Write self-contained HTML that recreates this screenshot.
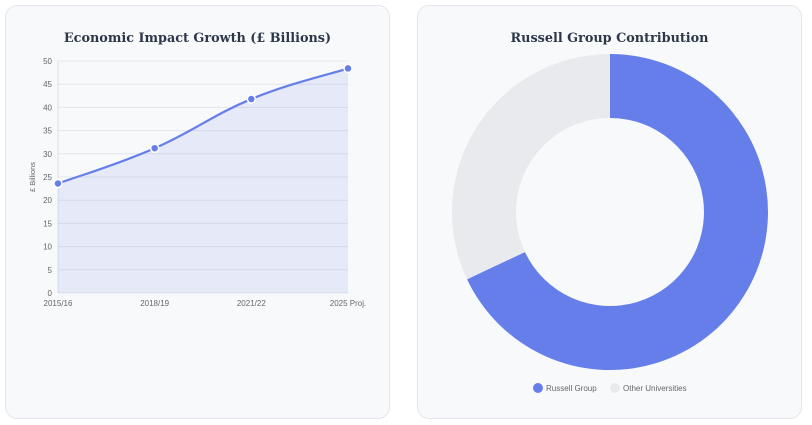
<!DOCTYPE html>
<html><head><meta charset="utf-8"><style>
body{margin:0;width:812px;height:425px;background:#fff;font-family:"Liberation Sans",sans-serif;overflow:hidden}
.card{position:absolute;top:5px;width:385px;height:414px;background:#f8f9fb;border:1px solid #e3e6ea;border-radius:12px;box-sizing:border-box}
.title{position:absolute;top:25px;left:0;right:0;text-align:center;font-family:"DejaVu Serif","Liberation Serif",serif;font-weight:bold;font-size:12.8px;color:#2d3748}
</style></head><body>
<div class="card" style="left:5px">
<div class="title">Economic Impact Growth (£ Billions)</div></div>
<div class="card" style="left:417px">
<div class="title">Russell Group Contribution</div></div>
<svg id="s" width="812" height="425" style="position:absolute;left:0;top:0"></svg>
<script>
const categories=["2015/16","2018/19","2021/22","2025 Proj."];
const values=[23.6,31.2,41.8,48.4];
const yTicks=[0,5,10,15,20,25,30,35,40,45,50];
const donutLabels=["Russell Group","Other Universities"];
const donutValues=[68,32];
const donutColors=["#667eea","#e8eaed"];
const NS="http://www.w3.org/2000/svg",s=document.getElementById('s');
function el(t,a,p){const e=document.createElementNS(NS,t);for(const k in a)e.setAttribute(k,a[k]);(p||s).appendChild(e);return e;}
const x0=58,x1=348,y0=293,y1=61;
const X=i=>x0+i*(x1-x0)/(categories.length-1);
const Y=v=>y0-v/50*(y0-y1);
yTicks.forEach(t=>{
 const g=el('line',{x1:x0,x2:x1,y1:Y(t),y2:Y(t),stroke:'#e3e6ec','stroke-width':1});
 
 const l=el('text',{x:x0-6,y:Y(t)+3,'text-anchor':'end','font-size':8,fill:'#666'});l.textContent=t;
 
});
const ax=el('line',{x1:x0,x2:x0,y1:y1,y2:y0,stroke:'#dde0e6'});

categories.forEach((c,i)=>{
 const l=el('text',{x:X(i),y:y0+13,'text-anchor':'middle','font-size':8,fill:'#666'});l.textContent=c;
 
});
const yt=el('text',{transform:`translate(35,${(y0+y1)/2}) rotate(-90)`,'text-anchor':'middle','font-size':7.5,fill:'#666'});yt.textContent='£ Billions';

const pts=values.map((v,i)=>[X(i),Y(v)]);
let d=`M${pts[0][0]},${pts[0][1]}`;
for(let i=0;i<pts.length-1;i++){
 const p0=pts[Math.max(0,i-1)],p1=pts[i],p2=pts[i+1],p3=pts[Math.min(pts.length-1,i+2)],t=0.2;
 d+=` C${p1[0]+(p2[0]-p0[0])*t},${p1[1]+(p2[1]-p0[1])*t} ${p2[0]-(p3[0]-p1[0])*t},${p2[1]-(p3[1]-p1[1])*t} ${p2[0]},${p2[1]}`;
}
const area=el('path',{d:d+` L${X(values.length-1)},${y0} L${x0},${y0} Z`,fill:'rgba(102,126,234,0.12)'});

const line=el('path',{d:d,fill:'none',stroke:'#667eea','stroke-width':2.2});

pts.forEach(p=>{const c=el('circle',{cx:p[0],cy:p[1],r:4,fill:'#667eea',stroke:'#fff','stroke-width':1.5});
 });
const cx=610,cy=212,R=158,r=94,tot=donutValues.reduce((a,b)=>a+b,0);
let a0=0;
donutValues.forEach((v,i)=>{
 const a1=a0+v/tot*2*Math.PI,P=(rad,a)=>[cx+rad*Math.sin(a),cy-rad*Math.cos(a)],lg=a1-a0>Math.PI?1:0;
 const [ax1,ay1]=P(R,a0),[ax2,ay2]=P(R,a1),[bx1,by1]=P(r,a1),[bx2,by2]=P(r,a0);
 const p=el('path',{d:`M${ax1},${ay1} A${R},${R} 0 ${lg} 1 ${ax2},${ay2} L${bx1},${by1} A${r},${r} 0 ${lg} 0 ${bx2},${by2} Z`,fill:donutColors[i]});
 
 a0=a1;
});
const lx=[538,615];
donutLabels.forEach((t,i)=>{
 const c=el('circle',{cx:lx[i],cy:388,r:5,fill:donutColors[i]});
 
 const l=el('text',{x:lx[i]+8,y:391,'font-size':8,fill:'#666'});l.textContent=t;
 
});
</script>
</body></html>
